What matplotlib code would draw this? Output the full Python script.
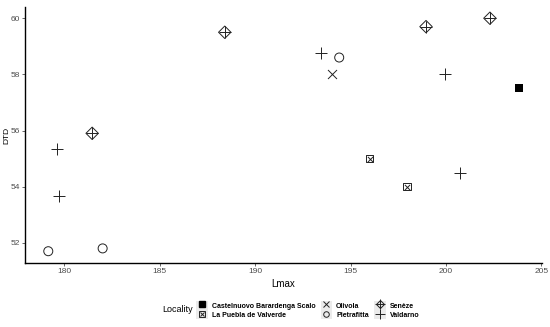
import matplotlib.pyplot as plt
from matplotlib.lines import Line2D
from matplotlib.patches import Rectangle
from matplotlib.legend_handler import HandlerTuple

plt.rcParams['font.family'] = ['Liberation Sans', 'DejaVu Sans']

# data
castelnuovo_x = [203.8]
castelnuovo_y = [57.5]
puebla_x = [196.0, 197.95]
puebla_y = [55.0, 54.0]
olivola_x = [194.0]
olivola_y = [58.0]
pietrafitta_x = [179.15, 182.0, 194.4]
pietrafitta_y = [51.7, 51.8, 58.6]
seneze_x = [181.45, 188.4, 198.95, 202.3]
seneze_y = [55.9, 59.5, 59.7, 60.0]
valdarno_x = [179.6, 179.7, 193.45, 199.95, 200.75]
valdarno_y = [55.35, 53.65, 58.75, 58.0, 54.5]

labels = ['Castelnuovo Barardenga Scalo', 'La Puebla de Valverde',
          'Olivola', 'Pietrafitta', 'Senèze', 'Valdarno']

fig = plt.figure(figsize=(5.5, 3.27), dpi=100)
ax = fig.add_axes([25 / 550, 1 - 263 / 327, 517 / 550, 256 / 327])

lw = 0.7
k = '#222222'
ax.scatter(castelnuovo_x, castelnuovo_y, marker='s', s=28, color='black', lw=0)
ax.scatter(puebla_x, puebla_y, marker='s', s=28, facecolor='none', edgecolor=k, lw=lw)
ax.scatter(puebla_x, puebla_y, marker='x', s=14, color=k, lw=lw)
ax.scatter(olivola_x, olivola_y, marker='x', s=42, color=k, lw=lw)
ax.scatter(pietrafitta_x, pietrafitta_y, marker='o', s=42, facecolor='none', edgecolor=k, lw=lw)
ax.scatter(seneze_x, seneze_y, marker='D', s=40, facecolor='none', edgecolor=k, lw=lw)
ax.scatter(seneze_x, seneze_y, marker='+', s=70, color=k, lw=lw)
ax.scatter(valdarno_x, valdarno_y, marker='+', s=75, color=k, lw=lw)

ax.set_xlim(177.93, 205.03)
ax.set_ylim(51.28, 60.4)
ax.set_xticks([180, 185, 190, 195, 200, 205])
ax.set_yticks([52, 54, 56, 58, 60])
for s in ['top', 'right']:
    ax.spines[s].set_visible(False)
for s in ['left', 'bottom']:
    ax.spines[s].set_linewidth(1.0)
ax.tick_params(labelsize=6, colors='#4d4d4d', length=2, width=0.6, pad=1.5)
ax.set_xlabel('Lmax', fontsize=7, labelpad=3)
ax.set_ylabel('DTD', fontsize=6)
ax.yaxis.set_label_coords(-15 / 517, 0.5)

bg = '#ebebeb'
def key():
    return Rectangle((0, 0), 1, 1, fc=bg, ec='none')

h_cast = (key(), Line2D([], [], marker='s', color='black', ls='', ms=4))
h_puebla = (key(), Line2D([], [], marker='s', mfc='none', mec=k, ls='', ms=4, mew=lw),
            Line2D([], [], marker='x', color=k, ls='', ms=2.5, mew=lw))
h_oliv = (key(), Line2D([], [], marker='x', color=k, ls='', ms=5, mew=lw))
h_piet = (key(), Line2D([], [], marker='o', mfc='none', mec=k, ls='', ms=4, mew=lw))
h_sen = (key(), Line2D([], [], marker='D', mfc='none', mec=k, ls='', ms=4.5, mew=lw),
         Line2D([], [], marker='+', color=k, ls='', ms=6.5, mew=lw))
h_val = (key(), Line2D([], [], marker='+', color=k, ls='', ms=7, mew=lw))

leg = fig.legend([h_cast, h_puebla, h_oliv, h_piet, h_sen, h_val], labels,
                 ncol=3, loc='center left', bbox_to_anchor=(193 / 550, 1 - 310 / 327),
                 frameon=False, prop={'size': 5.0, 'weight': 'bold'},
                 handler_map={tuple: HandlerTuple(ndivide=1, pad=0)},
                 handlelength=1.6, handleheight=1.6, handletextpad=0.6,
                 columnspacing=0.8, labelspacing=0.05, borderpad=0)
fig.text(162 / 550, 1 - 310 / 327, 'Locality', fontsize=6.5, va='center', ha='left')

fig.savefig('out.png', dpi=100)
